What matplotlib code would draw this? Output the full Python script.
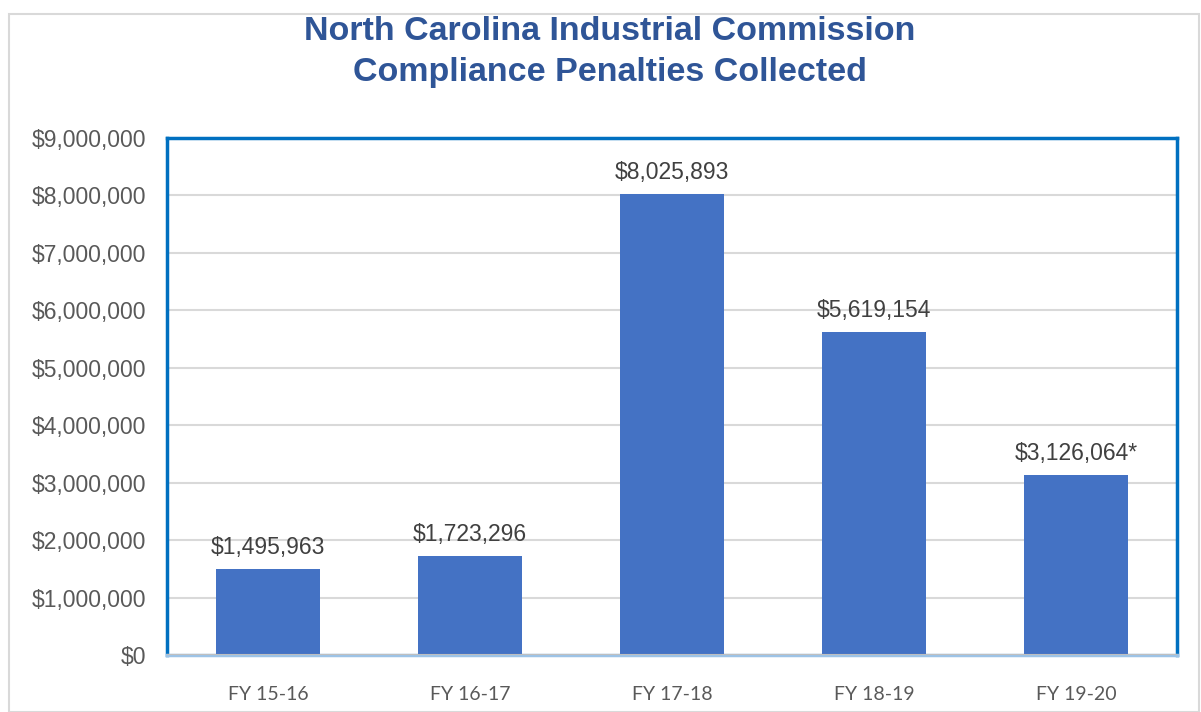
import matplotlib.pyplot as plt
from matplotlib.ticker import FuncFormatter
from matplotlib.patches import Rectangle

# data
years = ['FY 15-16', 'FY 16-17', 'FY 17-18', 'FY 18-19', 'FY 19-20']
penalties = [1495963, 1723296, 8025893, 5619154, 3126064]
labels = ['$1,495,963', '$1,723,296', '$8,025,893', '$5,619,154', '$3,126,064*']

fig = plt.figure(figsize=(12.01, 7.12), dpi=100)
ax = fig.add_axes([167/1201, 1 - 655/712, 1010/1201, 517/712])

# light gray outer border of the chart
fig.patches.append(Rectangle((9/1201, 0), 1190/1201, 1 - 14/712, transform=fig.transFigure,
                             fill=False, edgecolor='#D9D9D9', linewidth=1.5))

x = range(len(years))
ax.bar(x, penalties, width=0.515, color='#4472C4', zorder=3)

for i, v in enumerate(penalties):
    ax.text(i, v + 180000, labels[i], ha='center', va='bottom',
            fontsize=16.5, color='#404040', family='Liberation Sans')

ax.set_xlim(-0.5, 4.5)
ax.set_ylim(0, 9000000)
ax.set_yticks(range(0, 9000001, 1000000))
ax.yaxis.set_major_formatter(FuncFormatter(lambda v, p: '${:,.0f}'.format(v)))
ax.set_xticks(list(x))
ax.set_xticklabels(years, fontsize=14, color='#595959', family='Lato')
for t in ax.get_yticklabels():
    t.set_family('Liberation Sans')
    t.set_fontsize(16.5)
    t.set_color('#595959')

ax.tick_params(axis='both', length=0)
ax.tick_params(axis='x', pad=22)
ax.tick_params(axis='y', pad=15)
ax.grid(axis='y', color='#D9D9D9', linewidth=1.5, zorder=0)

for s in ['left', 'top', 'right']:
    ax.spines[s].set_color('#0070C0')
    ax.spines[s].set_linewidth(2.5)
ax.spines['bottom'].set_color('#9DC3E6')
ax.spines['bottom'].set_linewidth(2.5)
ax.axhline(0, color='#BFBFBF', linewidth=1.5, zorder=4)

fig.text(0.508, 1 - 31/712, 'North Carolina Industrial Commission', ha='center', va='center',
         fontsize=24.5, fontweight='bold', color='#2F5597', family='Liberation Sans')
fig.text(0.508, 1 - 73/712, 'Compliance Penalties Collected', ha='center', va='center',
         fontsize=24.5, fontweight='bold', color='#2F5597', family='Liberation Sans')

fig.savefig('out.png', dpi=100)
